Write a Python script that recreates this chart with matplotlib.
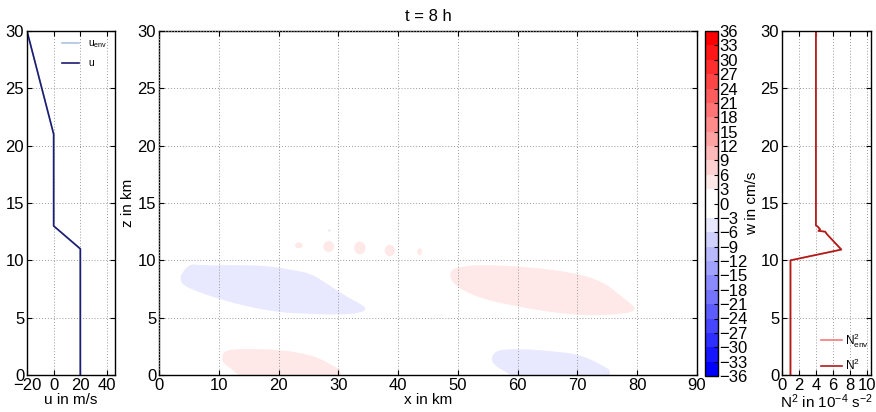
import numpy as np
import matplotlib
matplotlib.use('Agg')
import matplotlib.pyplot as plt
from matplotlib.colors import ListedColormap, BoundaryNorm
from matplotlib.path import Path
from matplotlib.patches import PathPatch, Ellipse
import matplotlib.cm as cm

plt.rcParams['font.family'] = ['Liberation Sans', 'DejaVu Sans']
plt.rcParams['font.size'] = 11
plt.rcParams['mathtext.fontset'] = 'custom'
plt.rcParams['mathtext.rm'] = 'Liberation Sans'
plt.rcParams['mathtext.it'] = 'Liberation Sans'

# ---------------- data ----------------
# wind profile
u_z = [0, 11, 13, 21, 30]
u_val = [20, 20, 0, 0, -20]
u_env_val = [20, 20, 0, 0, -20]

# stability profile (10^-4 s^-2)
n2_z = [0, 10, 10.94, 12.28, 12.5, 12.57, 12.7, 12.95, 13.04, 30]
n2_val = [1, 1, 7.0, 5.3, 5.1, 4.3, 4.5, 4.2, 4.0, 4.0]
n2_env_val = [1, 1, 7.0, 5.3, 5.1, 4.3, 4.5, 4.2, 4.0, 4.0]

# colour levels of w (cm/s)
w_levels = list(range(-36, 37, 3))

# regions where |w| exceeds 3 cm/s (outlines, x in km, z in km)
neg_upper_x = [3.5, 3.8, 5.2, 7.1, 13.5, 19.1, 22.4, 25.2, 28.0, 31.3, 34.1, 34.7, 33.6, 30.2, 24.7, 20.2, 15.2, 10.2, 6.3, 4.1]
neg_upper_z = [8.31, 8.9, 9.71, 9.54, 9.6, 9.48, 9.13, 8.9, 8.0, 6.85, 6.1, 5.7, 5.4, 5.25, 5.34, 5.45, 5.92, 6.6, 7.3, 7.8]

pos_upper_x = [48.6, 48.9, 50.3, 53.6, 61.9, 69.2, 74.2, 77.0, 79.2, 79.8, 78.1, 73.1, 69.7, 64.7, 59.7, 54.7, 51.9, 49.4]
pos_upper_z = [8.6, 9.19, 9.42, 9.63, 9.42, 8.95, 8.17, 7.0, 6.12, 5.69, 5.34, 5.19, 5.25, 5.54, 6.0, 6.56, 7.1, 7.87]

pos_lower_x = [10.5, 11.0, 13.0, 16.3, 20.2, 24.1, 26.9, 28.8, 30.5, 30.3, 29.5, 14.5, 12.4, 10.7]
pos_lower_z = [1.6, 2.13, 2.27, 2.27, 2.19, 1.9, 1.46, 0.87, 0.44, -0.3, -0.6, -0.6, 0.44, 1.05]

neg_lower_x = [55.5, 56.1, 58.0, 61.9, 66.4, 69.7, 72.5, 74.5, 75.6, 75.2, 74.5, 60.5, 58.0, 56.4]
neg_lower_z = [1.31, 2.04, 2.27, 2.24, 2.04, 1.84, 1.31, 0.73, 0.38, -0.3, -0.6, -0.6, 0.29, 0.73]

blob_w = [-4.5, 4.5, 4.5, -4.5]

# small cells near 11 km
cell_x = [23.4, 28.4, 33.6, 38.6, 43.6, 28.5]
cell_z = [11.3, 11.2, 11.08, 10.85, 10.75, 12.6]
cell_dx = [1.3, 1.8, 1.9, 1.7, 0.8, 0.55]
cell_dz = [0.5, 0.96, 1.1, 1.0, 0.6, 0.18]
cell_w = [4.5, 4.5, 4.5, 4.5, 4.5, -4.5]

# ---------------- colours ----------------
colors = []
for k in range(11, 0, -1):
    f = 1 - k / 11
    colors.append((f, f, 1.0))
colors += [(1, 1, 1), (1, 1, 1)]
for k in range(1, 12):
    f = 1 - k / 11
    colors.append((1.0, f, f))
cmap = ListedColormap(colors)
norm = BoundaryNorm(w_levels, cmap.N)

W, H = 876, 412
fig = plt.figure(figsize=(W / 100, H / 100), dpi=100)


def rect(l, t, r, b):
    return [l / W, 1 - b / H, (r - l) / W, (b - t) / H]


grid_kw = dict(linestyle=(0, (1, 2)), color='0.6', linewidth=0.7)
TICK = 12


def style(ax):
    ax.tick_params(direction='in', top=True, right=True, length=3.5, pad=2, labelsize=TICK)
    ax.grid(True, **grid_kw)
    for s in ax.spines.values():
        s.set_linewidth(1.0)


# left panel
ax_u = fig.add_axes(rect(27, 31, 115, 375))
ax_u.plot(u_env_val, u_z, color='#aec3e0', lw=1.2, label='u$_{env}$')
ax_u.plot(u_val, u_z, color='#1c1c70', lw=1.2, label='u')
ax_u.set_xlim(-20, 46)
ax_u.set_ylim(0, 30)
ax_u.set_xticks([-20, 0, 20, 40])
ax_u.set_yticks(range(0, 31, 5))
ax_u.set_xlabel('u in m/s', labelpad=0)
style(ax_u)
ax_u.legend(loc='upper right', fontsize=7.5, frameon=False, handlelength=1.6,
            handletextpad=0.9, borderaxespad=0.3, labelspacing=0.8)

# main panel
ax_m = fig.add_axes(rect(159, 31, 697, 375))
for xs, zs, wv in zip([neg_upper_x, pos_upper_x, pos_lower_x, neg_lower_x],
                      [neg_upper_z, pos_upper_z, pos_lower_z, neg_lower_z], blob_w):
    pts = np.column_stack([xs, zs])
    mids = (pts + np.roll(pts, -1, axis=0)) / 2
    verts = [mids[-1]]
    codes = [Path.MOVETO]
    for i in range(len(pts)):
        verts += [pts[i], mids[i]]
        codes += [Path.CURVE3, Path.CURVE3]
    ax_m.add_patch(PathPatch(Path(verts, codes), facecolor=cmap(norm(wv)),
                             edgecolor='none', zorder=1))
for cx, cz, dx, dz, wv in zip(cell_x, cell_z, cell_dx, cell_dz, cell_w):
    ax_m.add_patch(Ellipse((cx, cz), dx, dz, facecolor=cmap(norm(wv)),
                           edgecolor='none', zorder=1))
ax_m.set_xlim(0, 90)
ax_m.set_ylim(0, 30)
ax_m.set_xticks(range(0, 91, 10))
ax_m.set_yticks(range(0, 31, 5))
ax_m.set_xlabel('x in km', labelpad=0)
ax_m.set_ylabel('z in km', labelpad=2)
ax_m.set_title('t = 8 h', fontsize=12, pad=7)
style(ax_m)
ax_m.set_axisbelow(False)

# colorbar
cax = fig.add_axes(rect(705, 31, 718, 376))
sm = cm.ScalarMappable(norm=norm, cmap=cmap)
cb = fig.colorbar(sm, cax=cax, ticks=w_levels)
cb.outline.set_linewidth(1.0)
cb.ax.tick_params(direction='in', length=3, pad=1, labelsize=TICK)
cb.set_label('w in cm/s', labelpad=-2)

# right panel
ax_n = fig.add_axes(rect(782, 31, 871, 375))
ax_n.plot(n2_env_val, n2_z, color='#f47a7a', lw=1.2, label='N$^2_{env}$')
ax_n.plot(n2_val, n2_z, color='#b01c1c', lw=1.2, label='N$^2$')
ax_n.set_xlim(0, 10.5)
ax_n.set_ylim(0, 30)
ax_n.set_xticks(range(0, 11, 2))
ax_n.set_yticks(range(0, 31, 5))
ax_n.set_xlabel('N$^2$ in 10$^{-4}$ s$^{-2}$', labelpad=0)
style(ax_n)
ax_n.legend(loc='lower right', fontsize=8.5, frameon=False, handlelength=1.8,
            handletextpad=0.3, borderaxespad=0.0, borderpad=0.15, labelspacing=0.7)

fig.savefig('out.png', dpi=100)
